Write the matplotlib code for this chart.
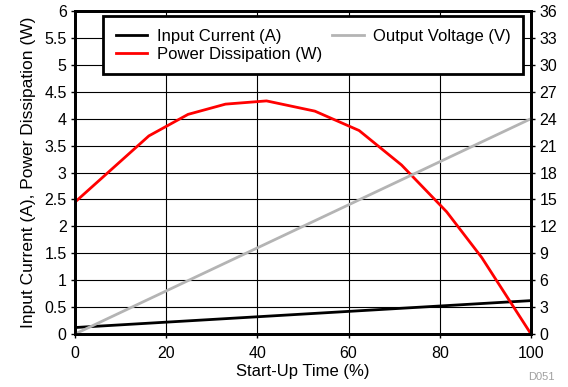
import numpy as np
import matplotlib.pyplot as plt

plt.rcParams['font.family'] = ['Liberation Sans', 'DejaVu Sans']
plt.rcParams['font.size'] = 11

# data
curr_x = [0, 100]
curr_y = [0.12, 0.62]
pwr_x = [0, 16.2, 24.8, 33, 42, 52.6, 62.3, 71.6, 81.5, 89.2, 100]
pwr_y = [2.45, 3.68, 4.08, 4.27, 4.33, 4.14, 3.78, 3.14, 2.27, 1.42, 0.0]
volt_x = [0, 100]
volt_y = [0.0, 24.0]

fig = plt.figure(figsize=(5.68, 3.87), dpi=100)
ax = fig.add_axes([75/568, 1-334/387, 456/568, 323/387])
ax2 = ax.twinx()

l1, = ax.plot(curr_x, curr_y, color='black', lw=2, label='Input Current (A)')
l2, = ax.plot(pwr_x, pwr_y, color='#ff0000', lw=2, label='Power Dissipation (W)')
l3, = ax2.plot(volt_x, volt_y, color='#b4b4b4', lw=2, label='Output Voltage (V)')

ax.set_xlim(0, 100)
ax.set_ylim(0, 6)
ax2.set_ylim(0, 36)
ax.set_xticks(np.arange(0, 101, 20))
ax.set_yticks(np.arange(0, 6.01, 0.5))
ax.set_yticklabels(['0', '0.5', '1', '1.5', '2', '2.5', '3', '3.5', '4', '4.5', '5', '5.5', '6'])
ax2.set_yticks(np.arange(0, 37, 3))
ax.grid(True, color='black', lw=0.8)
ax.set_axisbelow(True)

for a in (ax, ax2):
    for s in a.spines.values():
        s.set_linewidth(2)
    a.tick_params(length=3, width=1, pad=3, labelsize=11.5)
ax.tick_params(axis='x', pad=6)

ax.set_xlabel('Start-Up Time (%)', fontsize=12, labelpad=2)
ax.set_ylabel('Input Current (A), Power Dissipation (W)', fontsize=12.5, labelpad=6)

leg = ax2.legend(handles=[l1, l2, l3], ncol=2, loc='upper right',
                 bbox_to_anchor=((523-75)/456, (334-16)/323), borderaxespad=0,
                 fancybox=False, framealpha=1, edgecolor='black', fontsize=12,
                 handlelength=1.9, borderpad=0.75, labelspacing=0.2,
                 columnspacing=0.6, handletextpad=0.55)
leg.get_frame().set_linewidth(2)
leg.set_zorder(10)

fig.text(555/568, 5/387, 'D051', color='#a0a0a0', fontsize=8, ha='right', va='bottom')

fig.savefig('out.png', dpi=100)
